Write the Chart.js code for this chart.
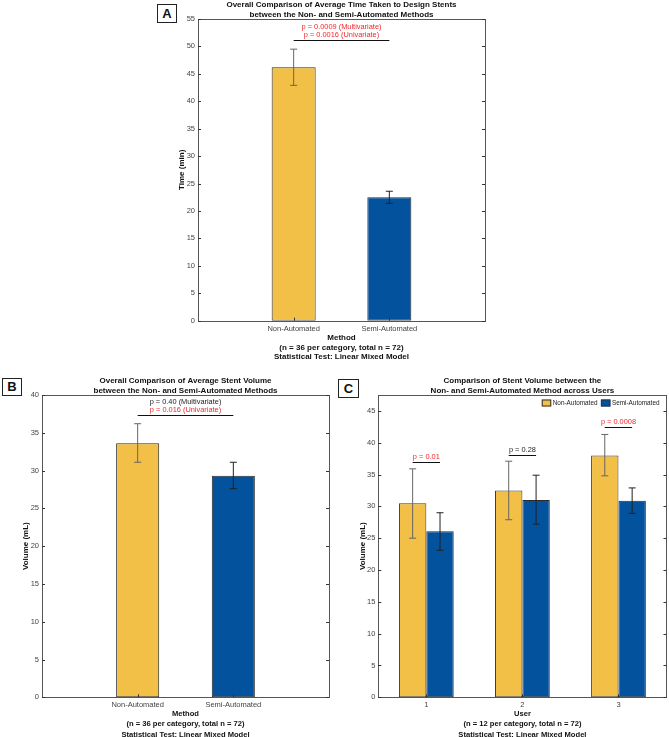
<!DOCTYPE html>
<html>
<head>
<meta charset="utf-8">
<script src="https://cdn.jsdelivr.net/npm/chart.js@4.4.0/dist/chart.umd.min.js"></script>
<style>
  html, body { margin: 0; padding: 0; width: 669px; height: 737px; overflow: hidden; background: #fff; }
  canvas { position: absolute; }
  .tag { position: absolute; box-sizing: border-box; border: 1px solid #222; background: #fff;
         font: bold 13px "Liberation Sans", Arial, sans-serif; text-align: center; color: #111; }
</style>
</head>
<body>
<canvas id="chartA" width="350" height="370" style="left:140px;top:0px"></canvas>
<canvas id="chartB" width="335" height="370" style="left:0px;top:375px"></canvas>
<canvas id="chartC" width="334" height="370" style="left:335px;top:375px"></canvas>
<div class="tag" style="left:157px;top:4px;width:20px;height:19px;line-height:17px">A</div>
<div class="tag" style="left:2px;top:378px;width:20px;height:18px;line-height:16px">B</div>
<div class="tag" style="left:338px;top:379px;width:21px;height:19px;line-height:17px">C</div>
<script>
// ---- data ----
const methods = ["Non-Automated", "Semi-Automated"];
const timeMean = [46.2, 22.5];
const timeLow = [42.9, 21.4];
const timeHigh = [49.5, 23.6];
const volumeMean = [33.6, 29.3];
const volumeLow = [31.1, 27.6];
const volumeHigh = [36.2, 31.1];

const users = ["1", "2", "3"];
const userNonMean = [30.5, 32.5, 38.0];
const userNonLow = [25.0, 27.9, 34.8];
const userNonHigh = [35.9, 37.1, 41.3];
const userSemiMean = [26.1, 31.0, 30.9];
const userSemiLow = [23.1, 27.2, 28.9];
const userSemiHigh = [29.0, 34.9, 32.9];

const pTextA = ["p = 0.0009 (Multivariate)", "p = 0.0016 (Univariate)"];
const pTextB = ["p = 0.40 (Multivariate)", "p = 0.016 (Univariate)"];
const pTextC = ["p = 0.01", "p = 0.28", "p = 0.0008"];
const pLineA = 51.1;
const pLineB = 37.4;
const pLineC = [36.9, 38.1, 42.4];

const YELLOW = "#F2BF47";
const BLUE = "#03529E";
const RED = "#F0282D";
const BLACK = "#222222";
const FONT = "'Liberation Sans', Arial, sans-serif";

// frame, inward ticks, error bars, p-value brackets, legend
const matlabLook = {
  id: "matlabLook",
  afterDatasetsDraw(chart, args, opts) {
    const { ctx, chartArea: a } = chart;
    const xs = chart.scales.x, ys = chart.scales.y;
    ctx.save();

    // error bars
    chart.data.datasets.forEach((ds, di) => {
      chart.getDatasetMeta(di).data.forEach((bar, i) => {
        const lo = ys.getPixelForValue(ds.errLow[i]);
        const hi = ys.getPixelForValue(ds.errHigh[i]);
        ctx.strokeStyle = Array.isArray(ds.errColor) ? ds.errColor[i] : ds.errColor;
        ctx.lineWidth = 1;
        ctx.beginPath();
        ctx.moveTo(bar.x, lo); ctx.lineTo(bar.x, hi);
        ctx.moveTo(bar.x - 3.5, lo); ctx.lineTo(bar.x + 3.5, lo);
        ctx.moveTo(bar.x - 3.5, hi); ctx.lineTo(bar.x + 3.5, hi);
        ctx.stroke();
      });
    });

    // frame
    ctx.strokeStyle = "#555";
    ctx.lineWidth = 1;
    ctx.strokeRect(Math.round(a.left) + 0.5, Math.round(a.top) + 0.5,
      Math.round(a.right - a.left), Math.round(a.bottom - a.top));

    // inward ticks
    ctx.strokeStyle = "#333";
    ctx.beginPath();
    ys.ticks.forEach((t) => {
      if (t.value % 5 !== 0) return;
      const py = Math.round(ys.getPixelForValue(t.value)) + 0.5;
      ctx.moveTo(a.left, py); ctx.lineTo(a.left + 3, py);
      ctx.moveTo(a.right, py); ctx.lineTo(a.right - 3, py);
    });
    xs.ticks.forEach((t, i) => {
      if (!t.label) return;
      const px = Math.round(xs.getPixelForTick(i)) + 0.5;
      ctx.moveTo(px, a.bottom); ctx.lineTo(px, a.bottom - 3);
    });
    ctx.stroke();

    // p-value brackets
    const sig = opts.sig;
    if (sig) {
      ctx.font = "7.4px " + FONT;
      ctx.textAlign = "center";
      ctx.textBaseline = "middle";
      sig.y.forEach((yv, k) => {
        const [d1, i1] = sig.from[k], [d2, i2] = sig.to[k];
        const x1 = chart.getDatasetMeta(d1).data[i1].x;
        const x2 = chart.getDatasetMeta(d2).data[i2].x;
        const py = Math.round(ys.getPixelForValue(yv)) + 0.5;
        ctx.strokeStyle = "#111";
        ctx.beginPath();
        ctx.moveTo(x1, py); ctx.lineTo(x2, py);
        ctx.stroke();
        const texts = sig.texts[k], cols = sig.colors[k];
        texts.forEach((t, j) => {
          ctx.fillStyle = cols[j];
          ctx.fillText(t, (x1 + x2) / 2, py - 5.5 - (texts.length - 1 - j) * 8.2);
        });
      });
    }

    // legend inside top-right
    if (opts.legend) {
      ctx.font = "6.4px " + FONT;
      ctx.textAlign = "left";
      ctx.textBaseline = "middle";
      const items = chart.data.datasets;
      const widths = items.map((d) => 9.5 + 1.5 + ctx.measureText(d.label).width);
      const total = widths.reduce((s, w) => s + w, 0) + 3.4 * (items.length - 1);
      let lx = a.right - 7 - total;
      const ty = a.top + 4.5;
      items.forEach((d, k) => {
        ctx.fillStyle = d.backgroundColor;
        ctx.fillRect(lx, ty, 9.5, 7);
        ctx.strokeStyle = "#333";
        ctx.strokeRect(lx + 0.5, ty + 0.5, 8.5, 6);
        ctx.fillStyle = BLACK;
        ctx.fillText(d.label, lx + 11, ty + 3.7);
        lx += widths[k] + 3.4;
      });
    }
    ctx.restore();
  },
};

function yAxis(max, title, width, titlePad) {
  return {
    min: 0, max: max,
    border: { display: false },
    grid: { display: false, drawTicks: false },
    ticks: { stepSize: 5, includeBounds: false, padding: 3, color: "#444", font: { size: 7.5 },
      callback: (v) => (v % 5 === 0 ? v : "") },
    title: { display: true, text: title, color: "#111", font: { size: 8, weight: "bold", lineHeight: 1.2 },
      padding: { top: titlePad, bottom: 0 } },
    afterFit: (s) => { s.width = width; },
  };
}

function xTitle(lines, size, lh, padBottom) {
  return { display: true, text: lines, color: "#111", font: { size: size, weight: "bold", lineHeight: lh },
    padding: { top: 0, bottom: padBottom } };
}

function titleCfg(lines, padTop, padBottom, lh) {
  return { display: true, text: lines, fullSize: false, color: "#111",
    font: { size: 8, weight: "bold", lineHeight: lh }, padding: { top: padTop, bottom: padBottom } };
}

function methodChart(id, mean, low, high, cfg) {
  return new Chart(document.getElementById(id), {
    type: "bar",
    data: {
      datasets: [{
        label: "mean",
        data: mean.map((v, i) => ({ x: i + 1, y: v })),
        backgroundColor: [YELLOW, BLUE],
        borderColor: "#2a2a2a",
        borderWidth: 1,
        borderSkipped: false,
        categoryPercentage: 1,
        barPercentage: cfg.barPct,
        errLow: low, errHigh: high,
        errColor: ["#666", "#222"],
      }],
    },
    options: {
      responsive: false,
      animation: false,
      font: { family: FONT },
      layout: { padding: { left: 0, right: cfg.padRight, top: 0, bottom: 0 } },
      scales: {
        x: {
          type: "linear", min: 0, max: 3, offset: false,
          border: { display: false },
          grid: { display: false, drawTicks: false },
          ticks: { stepSize: 1, autoSkip: false, maxRotation: 0, padding: cfg.xTickPad, color: "#444", font: { size: 7.5 },
            callback: (v) => methods[v - 1] || "" },
          title: xTitle(cfg.xLines, cfg.xSize, cfg.xLh, cfg.xPad),
          afterFit: (s) => { s.height = cfg.xHeight; },
        },
        y: yAxis(cfg.yMax, cfg.yTitle, cfg.yWidth, cfg.yTitlePad),
      },
      plugins: {
        legend: { display: false },
        tooltip: { enabled: false },
        title: titleCfg(cfg.title, cfg.tPadTop, cfg.tPadBottom, cfg.tLh),
        matlabLook: { sig: { y: [cfg.pLine], from: [[0, 0]], to: [[0, 1]], texts: [cfg.pText], colors: [cfg.pColors] } },
      },
    },
    plugins: [matlabLook],
  });
}

methodChart("chartA", timeMean, timeLow, timeHigh, {
  barPct: 0.46, padRight: 5, yMax: 55, yTitle: "Time (min)", yWidth: 58, yTitlePad: 37.4,
  xLines: ["Method", "(n = 36 per category, total n = 72)", "Statistical Test: Linear Mixed Model"],
  xSize: 8, xLh: 1.2, xPad: 8.2, xHeight: 49.3, xTickPad: 3.5,
  title: ["Overall Comparison of Average Time Taken to Design Stents", "between the Non- and Semi-Automated Methods"],
  tPadTop: 0.6, tPadBottom: 0, tLh: 1.15,
  pLine: pLineA, pText: pTextA, pColors: [RED, RED],
});

methodChart("chartB", volumeMean, volumeLow, volumeHigh, {
  barPct: 0.45, padRight: 6, yMax: 40, yTitle: "Volume (mL)", yWidth: 42, yTitlePad: 21.2,
  xLines: ["Method", "(n = 36 per category, total n = 72)", "Statistical Test: Linear Mixed Model"],
  xSize: 7.6, xLh: 1.35, xPad: 5.4, xHeight: 47.7, xTickPad: 3,
  title: ["Overall Comparison of Average Stent Volume", "between the Non- and Semi-Automated Methods"],
  tPadTop: 1.6, tPadBottom: 0, tLh: 1.15,
  pLine: pLineB, pText: pTextB, pColors: [BLACK, RED],
});

new Chart(document.getElementById("chartC"), {
  type: "bar",
  data: {
    labels: users,
    datasets: [
      {
        label: "Non-Automated",
        data: userNonMean,
        backgroundColor: YELLOW,
        borderColor: "#3a3a3a",
        borderWidth: 1,
        borderSkipped: false,
        errLow: userNonLow, errHigh: userNonHigh, errColor: "#666",
      },
      {
        label: "Semi-Automated",
        data: userSemiMean,
        backgroundColor: BLUE,
        borderColor: "#2a2a2a",
        borderWidth: 1,
        borderSkipped: false,
        errLow: userSemiLow, errHigh: userSemiHigh, errColor: "#222",
      },
    ],
  },
  options: {
    responsive: false,
    animation: false,
    font: { family: FONT },
    categoryPercentage: 0.57,
    barPercentage: 1,
    layout: { padding: { left: 0, right: 2.5, top: 0, bottom: 0 } },
    scales: {
      x: {
        border: { display: false },
        grid: { display: false, drawTicks: false },
        ticks: { maxRotation: 0, padding: 3, color: "#444", font: { size: 7.5 } },
        title: xTitle(["User", "(n = 12 per category, total n = 72)", "Statistical Test: Linear Mixed Model"], 7.6, 1.35, 5.4),
        afterFit: (s) => { s.height = 47.7; },
      },
      y: yAxis(47.5, "Volume (mL)", 43.3, 22.9),
    },
    plugins: {
      legend: { display: false },
      tooltip: { enabled: false },
      title: titleCfg(["Comparison of Stent Volume between the", "Non- and Semi-Automated Method across Users"], 1.6, 0, 1.15),
      matlabLook: {
        legend: true,
        sig: {
          y: pLineC,
          from: users.map((u, i) => [0, i]),
          to: users.map((u, i) => [1, i]),
          texts: pTextC.map((t) => [t]),
          colors: [[RED], [BLACK], [RED]],
        },
      },
    },
  },
  plugins: [matlabLook],
});
</script>
</body>
</html>
